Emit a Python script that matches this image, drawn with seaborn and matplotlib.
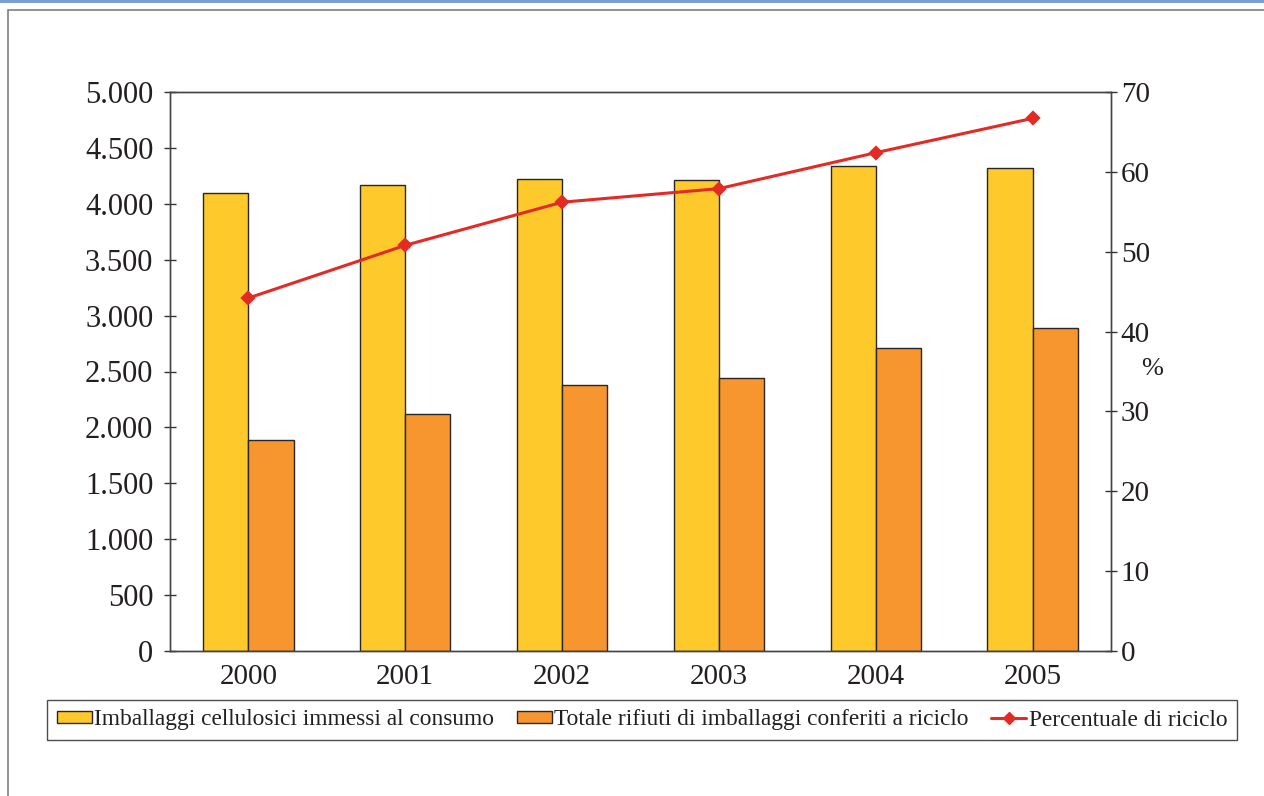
import matplotlib
matplotlib.use("Agg")
import matplotlib.pyplot as plt
import seaborn as sns
import pandas as pd
from matplotlib.patches import Rectangle, Patch
from matplotlib.lines import Line2D
from matplotlib.ticker import FuncFormatter

years = ["2000", "2001", "2002", "2003", "2004", "2005"]
immessi = [4100, 4165, 4222, 4210, 4335, 4318]
riciclo = [1887, 2118, 2379, 2440, 2710, 2887]
percentuale = [44.2, 50.8, 56.2, 57.9, 62.4, 66.7]
series_names = ["Imballaggi cellulosici immessi al consumo",
                "Totale rifiuti di imballaggi conferiti a riciclo",
                "Percentuale di riciclo"]

sns.set_style("white")
plt.rcParams["font.family"] = ["Liberation Serif", "DejaVu Serif"]

c_yellow = "#FDC92B"
c_orange = "#F7962F"
c_red = "#E32B26"
c_edge = "#2A2526"

df = pd.DataFrame({
    "anno": years * 2,
    "valore": immessi + riciclo,
    "serie": [series_names[0]] * 6 + [series_names[1]] * 6,
})
dfp = pd.DataFrame({"anno": years, "pct": percentuale})

fig = plt.figure(figsize=(12.64, 7.96), dpi=100)
W, H = 1264, 796

# outer decoration: blue top bar and gray frame
fig.patches.append(Rectangle((0, 1 - 3 / H), 1, 3 / H, transform=fig.transFigure,
                             facecolor="#7A9FD3", edgecolor="none", zorder=0))
fig.patches.append(Rectangle((8 / W, -0.1), 1.2, 1 - 10 / H + 0.1, transform=fig.transFigure,
                             facecolor="none", edgecolor="#7F7F7F", linewidth=1.2, zorder=0))

ax = fig.add_axes([170 / W, 1 - 651 / H, (1111 - 170) / W, (651 - 92) / H])
sns.barplot(data=df, x="anno", y="valore", hue="serie", order=years,
            hue_order=series_names[:2], palette=[c_yellow, c_orange],
            width=0.575, edgecolor=c_edge, linewidth=1.0, saturation=1,
            errorbar=None, legend=False, ax=ax)
ax.set_ylim(0, 5000)
ax.set_yticks(range(0, 5001, 500))
ax.yaxis.set_major_formatter(FuncFormatter(lambda v, p: f"{int(v):,}".replace(",", ".")))
ax.set_xlim(-0.5, 5.5)
ax.set_xlabel("")
ax.set_ylabel("")
ax.set_xticks([i + 0.5 for i in range(-1, 6)], minor=False)
ax.set_xticklabels([])
ax.set_xticks(range(6), minor=True)
ax.set_xticklabels(years, minor=True)
ax.tick_params(axis="x", which="major", direction="inout", length=8, width=1, color="#333333")
ax.tick_params(axis="x", which="minor", length=0, pad=9, labelsize=21, labelcolor="#231F20")
ax.tick_params(axis="y", direction="inout", length=8, width=1, color="#333333",
               pad=8, labelsize=22, labelcolor="#231F20")
for s in ax.spines.values():
    s.set_visible(True)
    s.set_color("#444444")
    s.set_linewidth(1.0)

ax2 = ax.twinx()
sns.pointplot(data=dfp, x="anno", y="pct", order=years, color=c_red,
              markers="D", linestyles="-", linewidth=2.2, markersize=6,
              errorbar=None, ax=ax2)
ax2.set_ylim(0, 70)
ax2.set_yticks(range(0, 71, 10))
ax2.set_xlim(-0.5, 5.5)
ax2.set_ylabel("")
ax2.set_xlabel("")
ax2.tick_params(axis="y", direction="inout", length=8, width=1, color="#333333",
                pad=3, labelsize=21, labelcolor="#231F20")
for s in ax2.spines.values():
    s.set_visible(True)
    s.set_color("#444444")
    s.set_linewidth(1.0)
ax2.text(1152 / W, 1 - 369 / H, "%", transform=fig.transFigure, ha="center", va="center",
         fontsize=19, color="#231F20")

handles = [
    Patch(facecolor=c_yellow, edgecolor=c_edge, linewidth=1.0),
    Patch(facecolor=c_orange, edgecolor=c_edge, linewidth=1.0),
    Line2D([0], [0], color=c_red, linewidth=2.2, marker="D", markersize=6),
]
leg = fig.legend(handles, series_names, loc="center", ncol=3,
                 bbox_to_anchor=(642 / W, 1 - 720 / H), fontsize=16.8,
                 frameon=True, fancybox=False, shadow=False,
                 handlelength=1.5, handleheight=0.45, handletextpad=0.12,
                 columnspacing=0.95, borderpad=0.4, borderaxespad=0)
leg.get_frame().set_edgecolor("#231F20")
leg.get_frame().set_linewidth(1.0)
for t in leg.get_texts():
    t.set_color("#231F20")

fig.savefig("out.png", dpi=100)
